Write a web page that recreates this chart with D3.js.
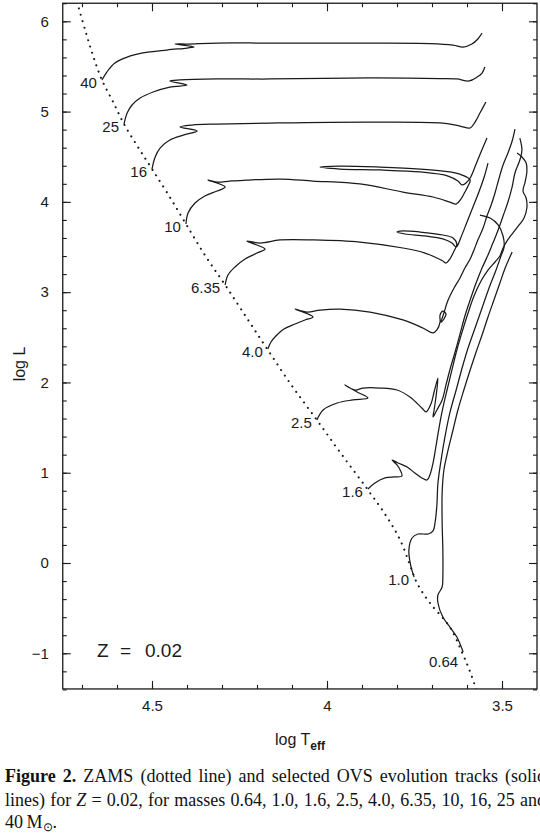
<!DOCTYPE html>
<html><head><meta charset="utf-8">
<script src="https://cdn.jsdelivr.net/npm/d3@7"></script>
<style>body{margin:0;background:#fff;overflow:hidden}svg{display:block}</style>
</head><body>
<svg id="c" width="540" height="835"></svg>
<script>
// ---------------- data (log Teff, log L) ----------------
const xTickValues = [4.5, 4, 3.5];
const xTickLabels = ["4.5", "4", "3.5"];
const yTickValues = [-1, 0, 1, 2, 3, 4, 5, 6];
const yTickLabels = ["\u22121", "0", "1", "2", "3", "4", "5", "6"];
const massLabels = ["0.64", "1.0", "1.6", "2.5", "4.0", "6.35", "10", "16", "25", "40"];

const zamsLogT = [4.714,4.691,4.669,4.643,4.611,4.580,4.540,4.500,4.451,4.403,4.349,4.291,4.231,4.169,4.100,4.029,3.957,3.883,3.829,3.791,3.763,3.743,3.706,3.649,3.611,3.591,3.571];
const zamsLogL = [6.213,5.903,5.626,5.350,5.106,4.862,4.607,4.364,4.065,3.755,3.411,3.079,2.725,2.359,1.961,1.584,1.196,0.809,0.510,0.255,-0.022,-0.221,-0.443,-0.709,-1.019,-1.207,-1.428];

const t40T = [4.643,4.629,4.606,4.571,4.526,4.457,4.400,4.380,4.434,4.400,4.314,4.163,3.877,3.706,3.640,3.611,3.586,3.569,3.557];
const t40L = [5.350,5.438,5.538,5.604,5.649,5.682,5.704,5.715,5.748,5.748,5.759,5.759,5.759,5.754,5.737,5.715,5.748,5.804,5.870];

const t25T = [4.580,4.571,4.557,4.534,4.497,4.449,4.400,4.449,4.420,4.314,4.163,3.877,3.677,3.629,3.594,3.571,3.557,3.549];
const t25L = [4.862,4.984,5.073,5.150,5.217,5.272,5.294,5.338,5.350,5.361,5.361,5.372,5.366,5.361,5.339,5.383,5.427,5.494];

const t16T = [4.500,4.491,4.477,4.449,4.411,4.371,4.420,4.386,4.314,4.163,3.877,3.669,3.620,3.591,3.577,3.563,3.546];
const t16L = [4.364,4.497,4.596,4.685,4.740,4.785,4.829,4.851,4.862,4.873,4.884,4.873,4.840,4.818,4.884,4.984,5.106];

const t10T = [4.403,4.397,4.377,4.349,4.314,4.291,4.340,4.314,4.277,4.229,4.134,4.040,3.906,3.783,3.697,3.649,3.631,3.617,3.606,3.597,3.591,3.614,3.649,3.734,3.849,3.963,4.020,3.963,3.849,3.734,3.654,3.626,3.614,3.603,3.591,3.574,3.560,3.543];
const t10L = [3.755,3.877,3.987,4.065,4.120,4.165,4.242,4.220,4.231,4.242,4.253,4.231,4.198,4.109,4.054,3.998,3.976,4.032,4.109,4.176,4.242,4.297,4.331,4.364,4.386,4.397,4.386,4.364,4.353,4.331,4.286,4.231,4.187,4.209,4.264,4.419,4.552,4.707];

const t635T = [4.291,4.283,4.263,4.234,4.200,4.177,4.229,4.191,4.134,4.040,3.906,3.783,3.720,3.686,3.669,3.660,3.649,3.637,3.629,3.640,3.669,3.734,3.791,3.800,3.777,3.720,3.669,3.643,3.631,3.617,3.600,3.583,3.566,3.551,3.540];
const t635L = [3.079,3.190,3.279,3.367,3.433,3.478,3.566,3.544,3.578,3.578,3.555,3.489,3.433,3.378,3.345,3.323,3.367,3.456,3.533,3.600,3.633,3.666,3.677,3.666,3.644,3.622,3.589,3.544,3.500,3.611,3.777,3.943,4.109,4.275,4.430];

const t40mT = [4.169,4.160,4.146,4.123,4.091,4.063,4.040,4.091,4.057,4.020,3.963,3.877,3.783,3.726,3.697,3.686,3.677,3.677,3.669,3.660,3.666,3.674,3.666,3.654,3.637,3.620,3.606,3.591,3.580,3.569,3.554,3.543,3.531,3.520,3.509,3.497,3.483,3.471,3.463];
const t40mL = [2.370,2.448,2.514,2.592,2.647,2.692,2.725,2.813,2.780,2.802,2.813,2.780,2.692,2.603,2.548,2.581,2.669,2.747,2.791,2.758,2.703,2.669,2.769,2.913,3.046,3.157,3.267,3.367,3.467,3.578,3.710,3.843,3.965,4.098,4.253,4.408,4.541,4.674,4.807];

const t25mT = [4.029,4.011,3.971,3.926,3.883,3.914,3.949,3.920,3.897,3.849,3.800,3.763,3.729,3.717,3.703,3.694,3.683,3.689,3.694,3.697,3.686,3.671,3.660,3.649,3.634,3.620,3.606,3.591,3.574,3.557,3.540,3.526,3.511,3.497,3.483,3.471,3.463,3.449,3.443,3.449];
const t25mL = [1.584,1.695,1.772,1.806,1.828,1.894,1.972,1.916,1.938,1.938,1.916,1.839,1.717,1.673,1.761,1.894,2.049,1.828,1.695,1.617,1.695,1.806,1.972,2.138,2.337,2.536,2.736,2.913,3.101,3.267,3.411,3.544,3.688,3.843,3.998,4.165,4.320,4.464,4.574,4.707];

const t16mT = [3.883,3.863,3.834,3.806,3.786,3.791,3.800,3.814,3.797,3.771,3.749,3.729,3.714,3.706,3.697,3.689,3.680,3.669,3.657,3.643,3.629,3.614,3.597,3.580,3.560,3.540,3.520,3.506,3.497,3.486,3.469,3.451,3.437,3.429,3.431,3.440,3.434,3.429,3.431,3.443,3.457];
const t16mL = [0.820,0.886,0.942,0.953,0.964,1.030,1.086,1.141,1.108,1.064,0.997,0.942,0.920,0.975,1.108,1.285,1.495,1.717,1.916,2.138,2.359,2.559,2.769,2.957,3.123,3.245,3.334,3.400,3.489,3.566,3.655,3.744,3.821,3.932,4.043,4.120,4.220,4.331,4.430,4.497,4.541];

const t10mT = [3.751,3.760,3.766,3.757,3.740,3.711,3.697,3.691,3.686,3.683,3.674,3.663,3.649,3.631,3.614,3.597,3.577,3.557,3.537,3.517,3.503,3.494,3.497,3.511,3.534,3.563];
const t10mL = [-0.155,-0.044,0.144,0.277,0.321,0.321,0.355,0.454,0.643,0.886,1.141,1.396,1.662,1.916,2.160,2.381,2.603,2.824,3.046,3.245,3.400,3.500,3.622,3.744,3.821,3.854];

const t064T = [3.611,3.629,3.649,3.669,3.683,3.683,3.671,3.669,3.669,3.671,3.671,3.666,3.654,3.640,3.626,3.609,3.591,3.574,3.557,3.540,3.523,3.506,3.491,3.471];
const t064L = [-0.985,-0.819,-0.709,-0.598,-0.443,-0.354,-0.266,-0.155,0.144,0.443,0.776,1.030,1.252,1.473,1.695,1.916,2.138,2.337,2.525,2.725,2.913,3.101,3.267,3.445];

// tracks in the same order as massLabels
const tracksT = [t064T, t10mT, t16mT, t25mT, t40mT, t635T, t10T, t16T, t25T, t40T];
const tracksL = [t064L, t10mL, t16mL, t25mL, t40mL, t635L, t10L, t16L, t25L, t40L];

// ---------------- drawing ----------------
const svg = d3.select("#c");
const x = d3.scaleLinear().domain([4.5, 3.5]).range([152, 502]);
const y = d3.scaleLinear().domain([0, 6]).range([563, 21.3]);
const xLo = 4.755, xHi = 3.4, yLo = -1.395, yHi = 6.2;
const X0 = x(xLo), X1 = x(xHi), Y0 = y(yLo), Y1 = y(yHi);
const ink = "#1a1a1a";
const sans = "'Liberation Sans', Arial, Helvetica, sans-serif";

svg.append("defs").append("clipPath").attr("id", "plot")
  .append("rect").attr("x", X0).attr("y", Y1).attr("width", X1 - X0).attr("height", Y0 - Y1);

const xMinor = d3.range(35, 48).map(d => d / 10);
const yMinor = d3.range(-7, 32).map(d => d / 5);

function styleAxis(g) {
  g.select(".domain").remove();
  g.selectAll(".tick line").attr("stroke", ink).attr("stroke-width", 1.1);
  g.selectAll("text").attr("fill", ink).style("font-family", sans).style("font-size", "15px");
}
svg.append("g").attr("transform", `translate(0,${Y0})`)
  .call(d3.axisBottom(x).tickValues(xMinor).tickSize(-4).tickFormat("")).call(styleAxis);
svg.append("g").attr("transform", `translate(0,${Y0})`)
  .call(d3.axisBottom(x).tickValues(xTickValues).tickSize(-8).tickPadding(11)
    .tickFormat((d, i) => xTickLabels[i])).call(styleAxis);
svg.append("g").attr("transform", `translate(0,${Y1})`)
  .call(d3.axisTop(x).tickValues(xMinor).tickSize(-4).tickFormat("")).call(styleAxis);
svg.append("g").attr("transform", `translate(0,${Y1})`)
  .call(d3.axisTop(x).tickValues(xTickValues).tickSize(-8).tickFormat("")).call(styleAxis);
svg.append("g").attr("transform", `translate(${X0},0)`)
  .call(d3.axisLeft(y).tickValues(yMinor).tickSize(-4).tickFormat("")).call(styleAxis);
svg.append("g").attr("transform", `translate(${X0},0)`)
  .call(d3.axisLeft(y).tickValues(yTickValues).tickSize(-8).tickPadding(14)
    .tickFormat((d, i) => yTickLabels[i])).call(styleAxis);
svg.append("g").attr("transform", `translate(${X1},0)`)
  .call(d3.axisRight(y).tickValues(yMinor).tickSize(-4).tickFormat("")).call(styleAxis);
svg.append("g").attr("transform", `translate(${X1},0)`)
  .call(d3.axisRight(y).tickValues(yTickValues).tickSize(-8).tickFormat("")).call(styleAxis);

svg.append("rect").attr("x", X0).attr("y", Y1).attr("width", X1 - X0).attr("height", Y0 - Y1)
  .attr("fill", "none").attr("stroke", ink).attr("stroke-width", 1.3);

const plot = svg.append("g").attr("clip-path", "url(#plot)");
const line = d3.line().x(d => x(d[0])).y(d => y(d[1])).curve(d3.curveCatmullRom.alpha(0.5));

plot.append("path").datum(d3.zip(zamsLogT, zamsLogL)).attr("d", line)
  .attr("fill", "none").attr("stroke", ink).attr("stroke-width", 2.1)
  .attr("stroke-linecap", "round").attr("stroke-dasharray", "0.01 6.6");

tracksT.forEach((T, i) => {
  plot.append("path").datum(d3.zip(T, tracksL[i])).attr("d", line)
    .attr("fill", "none").attr("stroke", ink).attr("stroke-width", 1.25)
    .attr("stroke-linejoin", "round");
});

massLabels.forEach((m, i) => {
  const px = x(tracksT[i][0]), py = y(tracksL[i][0]);
  svg.append("text").attr("x", px - 5).attr("y", py + (i === 0 ? 15 : 8))
    .attr("text-anchor", "end").attr("fill", ink)
    .style("font-family", sans).style("font-size", "15px").text(m);
});

const zl = svg.append("g").style("font-family", sans).style("font-size", "19px").attr("fill", ink);
zl.append("text").attr("x", 97).attr("y", 657).text("Z");
zl.append("text").attr("x", 120).attr("y", 657).text("=");
zl.append("text").attr("x", 145).attr("y", 657).text("0.02");

svg.append("text").attr("transform", "translate(25,364) rotate(-90)").attr("text-anchor", "middle")
  .attr("fill", ink).style("font-family", sans).style("font-size", "16px").text("log L");
const xt = svg.append("text").attr("x", 300).attr("y", 745).attr("text-anchor", "middle")
  .attr("fill", ink).style("font-family", sans).style("font-size", "16px");
xt.append("tspan").text("log T");
xt.append("tspan").attr("dy", 5).style("font-size", "12px").style("font-weight", "bold").text("eff");

const serif = "'Liberation Serif', 'Times New Roman', serif";
const cap = svg.append("g").attr("fill", "#111").style("font-family", serif).style("font-size", "18px");
function justify(t, target) {
  const w = t.node().getComputedTextLength();
  const n = (t.text().match(/ /g) || []).length;
  if (n > 0) t.attr("word-spacing", (target - w) / n);
}
const l1 = cap.append("text").attr("x", 5).attr("y", 782);
l1.append("tspan").style("font-weight", "bold").text("Figure 2.");
l1.append("tspan").text(" ZAMS (dotted line) and selected OVS evolution tracks (solid");
justify(l1, 541);
const l2 = cap.append("text").attr("x", 5).attr("y", 806);
l2.append("tspan").text("lines) for ");
l2.append("tspan").style("font-style", "italic").text("Z");
l2.append("tspan").text(" = 0.02, for masses 0.64, 1.0, 1.6, 2.5, 4.0, 6.35, 10, 16, 25 and");
justify(l2, 541);
const l3 = cap.append("text").attr("x", 5).attr("y", 828);
l3.append("tspan").text("40\u2009M");
l3.append("tspan").attr("dy", 3).style("font-size", "12px").text("\u2299");
l3.append("tspan").attr("dy", -3).text(".");
</script>
</body></html>
